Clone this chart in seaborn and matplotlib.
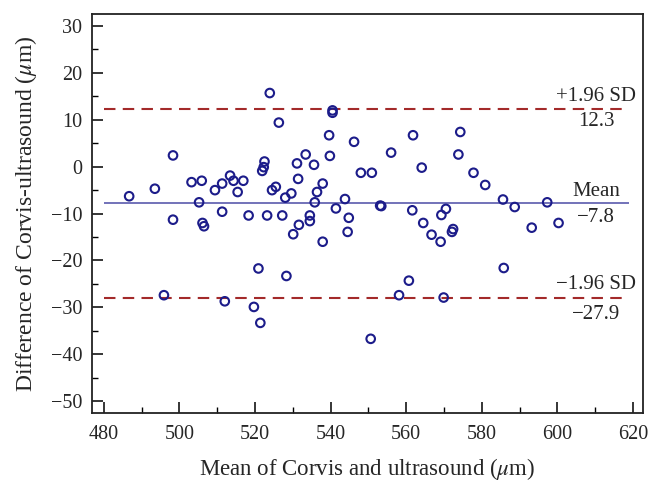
import numpy as np
import pandas as pd
import seaborn as sns
import matplotlib.pyplot as plt
from matplotlib.ticker import MultipleLocator

# mean of the two methods (um) and their difference (um)
mean_um = [486.7, 493.5, 498.3, 498.3, 495.9, 503.2, 505.9, 505.2, 506.1, 506.5,
           509.4, 511.3, 511.3, 512.0, 513.4, 514.3, 515.4, 516.9, 518.3, 519.7,
           520.9, 521.4, 521.9, 522.3, 522.5, 523.2, 523.9, 524.5, 525.5, 526.3,
           527.2, 528.0, 528.3, 529.6, 530.1, 531.1, 531.4, 531.6, 533.4, 534.5,
           534.5, 535.6, 535.8, 536.4, 537.9, 537.9, 539.6, 539.8, 540.5, 540.5,
           541.4, 543.8, 544.8, 544.5, 546.2, 548.0, 550.9, 550.6, 553.1, 553.4,
           556.0, 558.1, 560.7, 561.6, 561.8, 564.1, 564.5, 566.7, 569.1, 569.3,
           570.5, 569.9, 572.1, 572.4, 573.8, 574.3, 577.8, 580.9, 585.6, 585.8,
           588.7, 593.2, 597.3, 600.3]
diff_um = [-6.3, -4.7, 2.4, -11.3, -27.4, -3.3, -3.0, -7.6, -12.0, -12.7,
           -5.0, -3.6, -9.6, -28.7, -1.9, -3.0, -5.4, -3.0, -10.4, -29.9,
           -21.7, -33.3, -0.9, -0.1, 1.1, -10.4, 15.7, -5.0, -4.3, 9.4,
           -10.4, -6.6, -23.3, -5.7, -14.4, 0.7, -2.6, -12.4, 2.6, -10.4,
           -11.6, 0.4, -7.6, -5.4, -3.6, -16.0, 6.7, 2.3, 12.0, 11.5,
           -8.9, -6.9, -10.9, -13.9, 5.3, -1.3, -1.3, -36.7, -8.3, -8.4,
           3.0, -27.4, -24.3, -9.3, 6.7, -0.2, -12.0, -14.5, -16.0, -10.3,
           -9.0, -27.9, -13.9, -13.3, 2.6, 7.4, -1.3, -3.9, -7.0, -21.6,
           -8.6, -13.0, -7.6, -12.0]

mean_diff = -7.8
upper_loa = 12.3
lower_loa = -27.9

df = pd.DataFrame({"mean": mean_um, "diff": diff_um})

sns.set_style("ticks")
plt.rcParams["font.family"] = ["Liberation Serif", "DejaVu Serif"]
plt.rcParams["mathtext.fontset"] = "stix"

fig = plt.figure(figsize=(6.6, 4.91), dpi=100)
ax = fig.add_axes([0.139, 0.159, 0.835, 0.812])

pt_color = "#1c1c8a"
ax.hlines(mean_diff, 480, 619, color="#4b4ba6", lw=1.1, zorder=1)
for v in (upper_loa, lower_loa):
    ax.hlines(v, 480, 619, color="#a32a2a", lw=1.5, linestyles=(0, (5.5, 3.5)), zorder=1)

sns.scatterplot(data=df, x="mean", y="diff", ax=ax, marker="o", s=38,
                facecolor="none", edgecolor=pt_color, linewidth=1.5, zorder=3)

fs = 15
tx = 610.3
ax.text(tx, upper_loa + 2.6, "+1.96 SD", ha="center", va="center", fontsize=fs)
ax.text(tx, upper_loa - 2.7, f"{upper_loa:.1f}", ha="center", va="center", fontsize=fs)
ax.text(tx, mean_diff + 2.5, "Mean", ha="center", va="center", fontsize=fs)
ax.text(tx, mean_diff - 3.1, f"\u2212{abs(mean_diff):.1f}", ha="center", va="center", fontsize=fs)
ax.text(tx, lower_loa + 2.8, "\u22121.96 SD", ha="center", va="center", fontsize=fs)
ax.text(tx, lower_loa - 3.6, f"\u2212{abs(lower_loa):.1f}", ha="center", va="center", fontsize=fs)

ax.set_xlim(476.8, 622.6)
ax.set_ylim(-52.5, 32.5)
ax.xaxis.set_major_locator(MultipleLocator(20))
ax.xaxis.set_minor_locator(MultipleLocator(10))
ax.yaxis.set_major_locator(MultipleLocator(10))
ax.yaxis.set_minor_locator(MultipleLocator(5))
ax.tick_params(which="major", direction="in", length=8, width=1.1, labelsize=14.5, color="black")
ax.tick_params(which="minor", direction="in", length=4, width=1.0, color="black")
ax.tick_params(axis="x", which="major", pad=9)
ax.tick_params(axis="y", which="major", pad=7)
ax.tick_params(top=False, right=False, which="both")
ax.set_yticks(np.arange(-50, 31, 10))
ax.set_yticklabels([str(v).replace("-", "\u2212") for v in range(-50, 31, 10)])

for s in ax.spines.values():
    s.set_visible(True)
    s.set_linewidth(1.3)
    s.set_color("#222222")

ax.set_xlabel(r"Mean of Corvis and ultrasound ($\mu$m)", fontsize=16.5, labelpad=8)
ax.set_ylabel(r"Difference of Corvis-ultrasound ($\mu$m)", fontsize=17, labelpad=8)

plt.savefig("out.png", dpi=100)
